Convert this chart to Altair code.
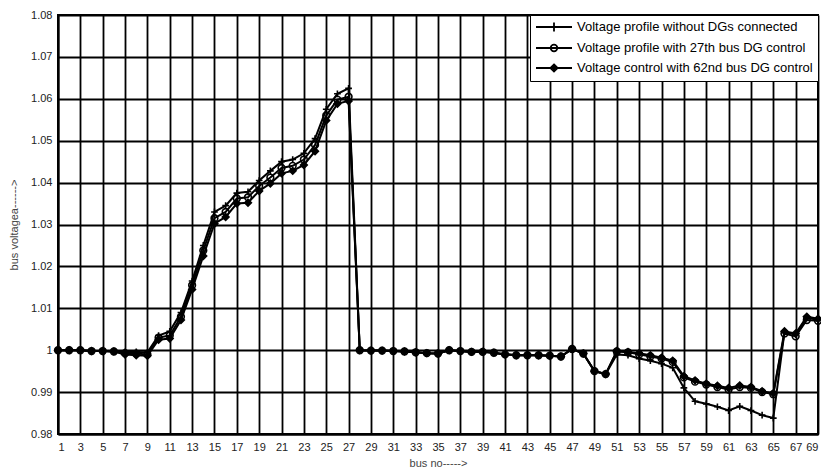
import altair as alt
import pandas as pd

# Bus numbers of the 69-bus feeder
bus = list(range(1, 70))

# Bus voltages (p.u.) for the three operating cases
v_no_dg = [
    1.0000, 1.0000, 1.0000, 0.9998, 0.9998, 0.9997,
    0.9996, 0.9996, 0.9995,
    1.0035, 1.0045,
    1.0090, 1.0165, 1.0250, 1.0330, 1.0345, 1.0375, 1.0378, 1.0405,
    1.0428, 1.0450, 1.0455, 1.0470, 1.0505, 1.0575, 1.0612, 1.0625,
    1.0000, 0.9999, 0.9999, 0.9998, 0.9997, 0.9995, 0.9993, 0.9992,
    1.0000, 0.9998, 0.9996, 0.9996, 0.9994, 0.9990, 0.9988, 0.9988,
    0.9988, 0.9987, 0.9985,
    1.0003, 0.9992, 0.9950, 0.9943,
    0.9990, 0.9988, 0.9980, 0.9975, 0.9968, 0.9958,
    0.9910, 0.9878, 0.9872, 0.9865, 0.9856, 0.9866, 0.9856, 0.9845, 0.9838,
    1.0043, 1.0038, 1.0078, 1.0072,
]
v_dg27 = [
    1.0000, 1.0000, 1.0000, 0.9998, 0.9998, 0.9997,
    0.9993, 0.9992, 0.9990,
    1.0030, 1.0035,
    1.0080, 1.0155, 1.0238, 1.0315, 1.0330, 1.0362, 1.0365, 1.0392,
    1.0412, 1.0435, 1.0440, 1.0455, 1.0490, 1.0560, 1.0598, 1.0605,
    1.0000, 0.9999, 0.9999, 0.9998, 0.9997, 0.9995, 0.9993, 0.9992,
    1.0000, 0.9998, 0.9996, 0.9996, 0.9994, 0.9990, 0.9988, 0.9988,
    0.9988, 0.9987, 0.9985,
    1.0003, 0.9992, 0.9950, 0.9943,
    0.9997, 0.9995, 0.9990, 0.9985, 0.9980, 0.9972,
    0.9935, 0.9925, 0.9918, 0.9912, 0.9906, 0.9912, 0.9910, 0.9900, 0.9895,
    1.0040, 1.0033, 1.0072, 1.0070,
]
v_dg62 = [
    1.0000, 1.0000, 1.0000, 0.9998, 0.9998, 0.9997,
    0.9990, 0.9988, 0.9987,
    1.0025, 1.0028,
    1.0072, 1.0145, 1.0225, 1.0302, 1.0318, 1.0350, 1.0352, 1.0380,
    1.0398, 1.0422, 1.0428, 1.0442, 1.0475, 1.0548, 1.0588, 1.0595,
    1.0000, 0.9999, 0.9999, 0.9998, 0.9997, 0.9995, 0.9993, 0.9992,
    1.0000, 0.9998, 0.9996, 0.9996, 0.9994, 0.9990, 0.9988, 0.9988,
    0.9988, 0.9987, 0.9985,
    1.0003, 0.9992, 0.9950, 0.9943,
    0.9998, 0.9996, 0.9993, 0.9988, 0.9982, 0.9975,
    0.9938, 0.9928, 0.9920, 0.9915, 0.9910, 0.9916, 0.9912, 0.9902, 0.9897,
    1.0045, 1.0040, 1.0080, 1.0075,
]

series_names = [
    "Voltage profile without DGs connected",
    "Voltage profile with 27th bus DG control",
    "Voltage control with 62nd bus DG control",
]

x_ticks = list(range(1, 70, 2))
y_ticks = [0.98, 0.99, 1.0, 1.01, 1.02, 1.03, 1.04, 1.05, 1.06, 1.07, 1.08]

frames = []
for name, vals in zip(series_names, [v_no_dg, v_dg27, v_dg62]):
    frames.append(pd.DataFrame({"bus": bus, "voltage": vals, "series": name}))
df = pd.concat(frames, ignore_index=True)

FONT = "Liberation Sans"

# marker shapes on the curves
marker_shapes = ["M-1,0L1,0M0,-1L0,1", "circle", "diamond"]
marker_fills = ["transparent", "transparent", "black"]

# legend keys: a short line segment with the marker in its middle (stroke only)
key_shapes = [
    "M-1,0L5,0M2,-0.75L2,0.75",
    "M-1,0L5,0M1.45,0A0.55,0.55 0 1,0 2.55,0A0.55,0.55 0 1,0 1.45,0",
    "M-1,0L5,0M2,-0.6L2.6,0L2,0.6L1.4,0ZM2,-0.35L2,0.35M1.7,0L2.3,0",
]

x_enc = alt.X(
    "bus:Q",
    scale=alt.Scale(domain=[1, 69], nice=False, zero=False),
    axis=alt.Axis(
        values=x_ticks, tickCount=len(x_ticks), title="bus no----->", labelAngle=0,
        labelFlush=True, labelOverlap=False,
        grid=True, gridColor="black", gridWidth=1.8, gridOpacity=1,
        domainColor="black", domainWidth=2, tickColor="black", tickSize=0,
        labelFont=FONT, labelFontSize=11, labelColor="#222", labelPadding=7,
        titleFont=FONT, titleFontSize=11, titleFontWeight="normal",
        titleColor="#444", titlePadding=5,
    ),
)
y_enc = alt.Y(
    "voltage:Q",
    scale=alt.Scale(domain=[0.98, 1.08], nice=False, zero=False),
    axis=alt.Axis(
        values=y_ticks, tickCount=len(y_ticks), title="bus voltagea------>",
        labelExpr="datum.value == 1 ? '1' : format(datum.value, '.2f')",
        labelOverlap=False,
        grid=True, gridColor="black", gridWidth=1.8, gridOpacity=1,
        domainColor="black", domainWidth=2, tickColor="black", tickSize=0,
        labelFont=FONT, labelFontSize=11, labelColor="#222", labelPadding=6,
        titleFont=FONT, titleFontSize=11, titleFontWeight="normal",
        titleColor="#444", titlePadding=11,
    ),
)

base = alt.Chart(df)

lines = base.mark_line(color="black", strokeWidth=2).encode(
    x=x_enc, y=y_enc, detail="series:N"
)

points = base.mark_point(color="black", strokeWidth=1.6, size=45, opacity=1).encode(
    x="bus:Q",
    y="voltage:Q",
    shape=alt.Shape("series:N", scale=alt.Scale(domain=series_names, range=marker_shapes), legend=None),
    fill=alt.Fill("series:N", scale=alt.Scale(domain=series_names, range=marker_fills), legend=None),
)

key = base.transform_filter("datum.bus < 0").mark_point(
    color="black", strokeWidth=1.8, opacity=1, filled=False
).encode(
    x="bus:Q",
    y="voltage:Q",
    shape=alt.Shape(
        "series:N",
        scale=alt.Scale(domain=series_names, range=key_shapes),
        legend=alt.Legend(
            title=None, orient="top-right", offset=0,
            fillColor="white", strokeColor="black", padding=5,
            labelFont=FONT, labelFontSize=13, labelColor="black", labelLimit=0,
            labelOffset=28, rowPadding=5, symbolSize=144,
            symbolStrokeWidth=1.8, symbolStrokeColor="black", symbolOpacity=1,
        ),
    ),
)

chart = (
    alt.layer(lines, points, key)
    .resolve_scale(shape="independent", fill="independent")
    .properties(
        width=760,
        height=419,
        padding={"left": 58, "top": 15, "right": 3, "bottom": 39},
        autosize=alt.AutoSizeParams(type="none"),
        background="white",
    )
    .configure_view(stroke="black", strokeWidth=2)
    .configure_axis(labelOverlap=False)
)

chart.save("out.html", embed_options={"renderer": "svg", "actions": False})
